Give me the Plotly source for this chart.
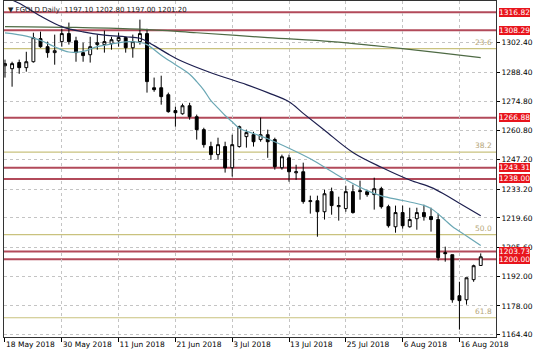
import plotly.graph_objects as go

# ---------------- data ----------------
dates = [
    "2018-05-18", "2018-05-21", "2018-05-22", "2018-05-23", "2018-05-24", "2018-05-25",
    "2018-05-28", "2018-05-29", "2018-05-30", "2018-05-31", "2018-06-01",
    "2018-06-04", "2018-06-05", "2018-06-06", "2018-06-07", "2018-06-08",
    "2018-06-11", "2018-06-12", "2018-06-13", "2018-06-14", "2018-06-15",
    "2018-06-18", "2018-06-19", "2018-06-20", "2018-06-21", "2018-06-22",
    "2018-06-25", "2018-06-26", "2018-06-27", "2018-06-28", "2018-06-29",
    "2018-07-02", "2018-07-03", "2018-07-04", "2018-07-05", "2018-07-06",
    "2018-07-09", "2018-07-10", "2018-07-11", "2018-07-12", "2018-07-13",
    "2018-07-16", "2018-07-17", "2018-07-18", "2018-07-19", "2018-07-20",
    "2018-07-23", "2018-07-24", "2018-07-25", "2018-07-26", "2018-07-27",
    "2018-07-30", "2018-07-31", "2018-08-01", "2018-08-02", "2018-08-03",
    "2018-08-06", "2018-08-07", "2018-08-08", "2018-08-09", "2018-08-10",
    "2018-08-13", "2018-08-14", "2018-08-15", "2018-08-16", "2018-08-17",
    "2018-08-20", "2018-08-21",
]

opens = [1291.5, 1290.1, 1293.0, 1290.6, 1293.4, 1304.3, 1300.5, 1297.7, 1302.9, 1306.7,
         1303.3, 1297.7, 1296.7, 1301.5, 1301.5, 1301.9, 1303.3, 1304.8, 1300.0, 1302.9,
         1306.7, 1281.1, 1281.1, 1277.8, 1270.3, 1268.8, 1272.6, 1267.4, 1261.3, 1253.3,
         1249.5, 1253.3, 1243.3, 1253.3, 1258.0, 1258.9, 1256.6, 1258.9, 1256.6, 1243.3,
         1248.0, 1240.9, 1241.4, 1227.3, 1227.7, 1222.5, 1232.0, 1224.9, 1224.0, 1232.0,
         1232.0, 1232.0, 1230.6, 1233.4, 1224.9, 1215.4, 1222.1, 1215.4, 1219.2, 1222.1,
         1220.2, 1218.8, 1203.2, 1202.2, 1182.8, 1180.9, 1190.4, 1197.10]
highs = [1294.4, 1293.4, 1294.4, 1298.1, 1307.1, 1307.6, 1302.9, 1306.2, 1309.0, 1311.9,
         1305.2, 1302.4, 1305.2, 1306.2, 1308.1, 1305.2, 1307.1, 1305.2, 1306.2, 1313.3,
         1309.0, 1285.9, 1286.8, 1278.8, 1272.2, 1273.6, 1274.0, 1268.4, 1262.2, 1255.6,
         1257.5, 1255.6, 1258.9, 1263.2, 1261.3, 1260.3, 1267.0, 1261.3, 1257.5, 1249.5,
         1249.5, 1244.7, 1245.7, 1230.1, 1230.1, 1232.9, 1233.9, 1229.6, 1234.8, 1235.3,
         1237.2, 1232.9, 1238.6, 1234.3, 1225.8, 1225.4, 1225.4, 1224.4, 1224.4, 1225.8,
         1224.4, 1221.6, 1206.0, 1202.2, 1189.4, 1191.3, 1197.5, 1202.80]
lows = [1285.9, 1281.6, 1287.7, 1288.7, 1293.0, 1300.0, 1295.3, 1292.0, 1300.5, 1301.5,
        1293.4, 1293.4, 1293.0, 1299.1, 1297.7, 1299.1, 1300.5, 1297.7, 1295.3, 1301.5,
        1278.8, 1279.2, 1273.1, 1269.3, 1262.7, 1268.4, 1266.0, 1256.6, 1252.8, 1247.1,
        1247.1, 1241.0, 1239.1, 1252.8, 1252.8, 1253.3, 1255.6, 1248.0, 1242.4, 1242.4,
        1236.7, 1237.6, 1226.3, 1221.6, 1210.7, 1218.8, 1221.1, 1218.3, 1222.5, 1221.6,
        1228.2, 1229.6, 1223.5, 1224.0, 1215.0, 1212.6, 1214.5, 1215.0, 1214.0, 1218.3,
        1213.1, 1199.4, 1198.9, 1179.5, 1166.8, 1178.6, 1189.4, 1197.00]
closes = [1292.5, 1292.5, 1290.6, 1293.4, 1304.8, 1300.5, 1297.7, 1298.6, 1306.7, 1302.9,
          1297.7, 1296.3, 1300.5, 1302.4, 1302.9, 1303.8, 1304.8, 1300.0, 1302.9, 1306.7,
          1284.0, 1280.2, 1276.9, 1269.8, 1269.3, 1272.6, 1267.4, 1261.3, 1254.2, 1249.5,
          1254.2, 1243.3, 1254.2, 1262.7, 1259.9, 1255.6, 1258.9, 1255.6, 1243.8, 1248.5,
          1241.4, 1241.4, 1227.3, 1227.7, 1222.5, 1231.0, 1225.4, 1225.4, 1232.0, 1222.1,
          1232.4, 1230.6, 1233.4, 1224.9, 1215.9, 1222.1, 1215.9, 1218.8, 1222.1, 1220.2,
          1218.8, 1200.8, 1202.7, 1180.9, 1180.5, 1191.3, 1197.0, 1201.20]

# moving averages (bar index, value)
ma_fast_idx = [0, 3, 5, 7, 9, 11, 13, 15, 17, 19, 20, 22, 24, 26, 27, 28, 29, 30, 31, 32,
               33, 35, 37, 40, 43, 46, 48, 51, 53, 56, 59, 60, 61, 62, 63, 65, 67]
ma_fast_val = [1307.0, 1305.5, 1303.5, 1300.5, 1298.0, 1298.3, 1300.5, 1301.8, 1302.8, 1302.5,
               1301.5, 1296.5, 1292.0, 1287.5, 1284.0, 1280.0, 1275.0, 1271.5, 1268.0, 1265.0,
               1262.0, 1259.5, 1257.0, 1252.5, 1247.5, 1241.5, 1237.6, 1232.5, 1230.0, 1227.8,
               1225.5, 1224.0, 1221.5, 1218.5, 1215.5, 1211.0, 1206.5]
ma_mid_idx = [0, 2, 5, 8, 11, 14, 17, 19, 21, 23, 25, 29, 34, 37, 40, 42, 45, 49, 53, 57,
              60, 62, 64, 67]
ma_mid_val = [1324.0, 1321.0, 1315.0, 1310.0, 1307.5, 1306.0, 1305.2, 1304.5, 1301.0, 1297.0,
              1293.5, 1288.2, 1282.6, 1278.8, 1274.5, 1269.0, 1261.0, 1250.5, 1243.5, 1237.5,
              1234.0, 1230.5, 1226.5, 1220.6]
ma_slow_idx = [0, 10, 19, 27, 37, 46, 52, 56, 61, 67]
ma_slow_val = [1310.0, 1309.6, 1308.8, 1307.1, 1304.8, 1302.9, 1301.0, 1299.6, 1297.7, 1295.3]

# horizontal levels
red_levels = [1200.00, 1203.73, 1238.00, 1243.31, 1266.88, 1308.29, 1316.82]
fib_levels = [1299.6, 1250.7, 1211.7, 1172.4]
fib_labels = ["23.6", "38.2", "50.0", "61.8"]

# axis ticks
price_ticks = [1302.40, 1288.40, 1274.80, 1260.80, 1247.20, 1233.20, 1219.60,
               1205.60, 1192.00, 1178.00, 1164.40]
tick_dates = ["2018-05-18", "2018-05-30", "2018-06-11", "2018-06-21", "2018-07-03",
              "2018-07-13", "2018-07-25", "2018-08-06", "2018-08-16"]
tick_labels = ["18 May 2018", "30 May 2018", "11 Jun 2018", "21 Jun 2018", "3 Jul 2018",
               "13 Jul 2018", "25 Jul 2018", "6 Aug 2018", "16 Aug 2018"]

# ---------------- figure ----------------
FONT = "DejaVu Sans"
bar_x = list(range(len(dates)))

fig = go.Figure()
fig.add_trace(go.Candlestick(
    x=bar_x, open=opens, high=highs, low=lows, close=closes,
    increasing=dict(fillcolor="white", line=dict(color="black", width=1)),
    decreasing=dict(fillcolor="black", line=dict(color="black", width=1)),
    whiskerwidth=0, hoverinfo="skip",
))
fig.add_trace(go.Scatter(x=ma_slow_idx, y=ma_slow_val, mode="lines",
                         line=dict(color="#4e6a44", width=1.2, shape="spline"), hoverinfo="skip"))
fig.add_trace(go.Scatter(x=ma_mid_idx, y=ma_mid_val, mode="lines",
                         line=dict(color="#1d1f4f", width=1.2, shape="spline"), hoverinfo="skip"))
fig.add_trace(go.Scatter(x=ma_fast_idx, y=ma_fast_val, mode="lines",
                         line=dict(color="#6aa7b4", width=1.2, shape="spline"), hoverinfo="skip"))

shapes = []
for lv in fib_levels:
    shapes.append(dict(type="line", xref="paper", x0=0, x1=1, yref="y", y0=lv, y1=lv,
                       line=dict(color="#c9c27e", width=1.2), layer="between"))
for lv in red_levels:
    shapes.append(dict(type="line", xref="paper", x0=0, x1=1, yref="y", y0=lv, y1=lv,
                       line=dict(color="#b24a5a", width=2), layer="between"))

annotations = []
for lv, lab in zip(fib_levels, fib_labels):
    annotations.append(dict(xref="paper", x=1, xanchor="right", xshift=-2,
                            yref="y", y=lv, yanchor="bottom", yshift=0,
                            text=lab, showarrow=False,
                            font=dict(family=FONT, size=7.5, color="#b5a679")))
for lv in red_levels:
    annotations.append(dict(xref="paper", x=1, xanchor="left", xshift=3,
                            yref="y", y=lv, yanchor="middle",
                            text=f"{lv:.2f}", showarrow=False, bgcolor="#e8141c",
                            borderpad=0, borderwidth=0,
                            font=dict(family=FONT, size=7.5, color="white")))
title_txt = ("▼ FGOLD,Daily  " + f"{opens[-1]:.2f} {highs[-1]:.2f} {lows[-1]:.2f} {closes[-1]:.2f}")
annotations.append(dict(xref="paper", x=0, xanchor="left", xshift=2,
                        yref="paper", y=1, yanchor="top", yshift=-3,
                        text=title_txt, showarrow=False,
                        font=dict(family=FONT, size=7, color="#222222")))

tickvals = [dates.index(d) for d in tick_dates]

fig.update_layout(
    width=536, height=358,
    margin=dict(l=4, r=40, t=1, b=21),
    paper_bgcolor="white", plot_bgcolor="white",
    showlegend=False,
    boxgap=0.42,
    font=dict(family=FONT, size=7.5, color="black"),
    shapes=shapes, annotations=annotations,
    xaxis=dict(
        range=[-0.14, 69.15], rangeslider=dict(visible=False),
        tickmode="array", tickvals=tickvals, ticktext=tick_labels,
        ticks="outside", ticklen=4, tickcolor="black", tickangle=0,
        ticklabelposition="outside right",
        showgrid=True, gridcolor="#c4c4c4", griddash="3px,3px", gridwidth=1,
        showline=True, linecolor="#333333", linewidth=1, mirror=True,
        zeroline=False, tickfont=dict(family=FONT, size=7.5, color="black"),
    ),
    yaxis=dict(
        range=[1163.3, 1322.1], side="right",
        tickmode="array", tickvals=price_ticks, ticktext=[f"{v:.2f}" for v in price_ticks],
        ticks="outside", ticklen=3, tickcolor="black",
        showgrid=True, gridcolor="#c4c4c4", griddash="3px,3px", gridwidth=1,
        showline=True, linecolor="#333333", linewidth=1, mirror=True,
        zeroline=False, tickfont=dict(family=FONT, size=7.5, color="black"),
    ),
)

fig.write_html("out.html")
